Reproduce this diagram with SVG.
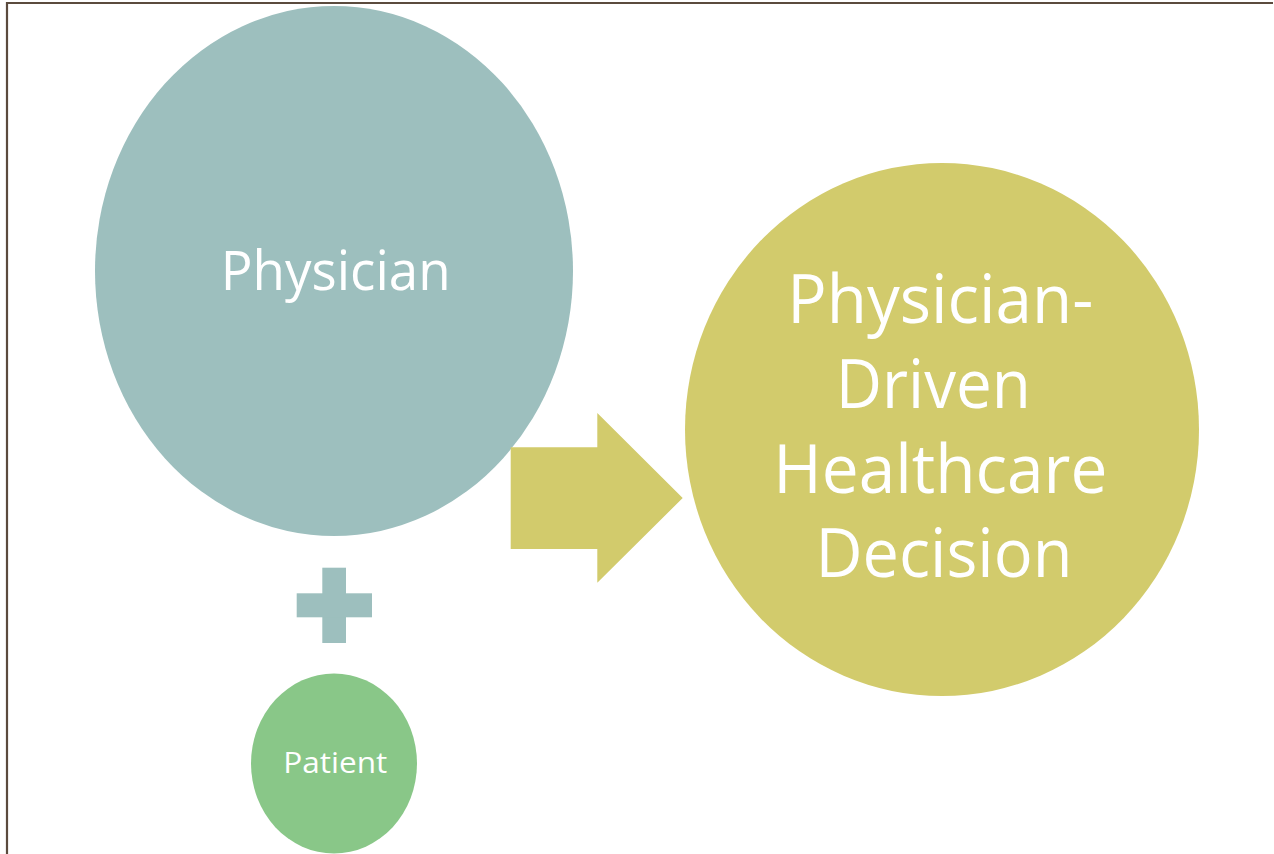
<svg xmlns="http://www.w3.org/2000/svg" width="1274" height="854" viewBox="0 0 1274 854">
<style>
.lbl{font-family:"Open Sans","Noto Sans","Liberation Sans",sans-serif;fill:#ffffff;text-anchor:middle}
.frame{stroke:#5b4b3e;stroke-width:2.2;fill:none}
</style>
<rect width="1274" height="854" fill="#ffffff"/>
<path class="frame" d="M7,854 V3 H1273"/>
<g id="physician">
<ellipse cx="334" cy="271" rx="239" ry="265" fill="#9dbfbe"/>
<text class="lbl" x="335.7" y="290" font-size="55" textLength="230" lengthAdjust="spacingAndGlyphs">Physician</text>
</g>
<g id="connectors">
<g id="plus" fill="#9dbfbe">
<rect x="322.3" y="567.7" width="23.7" height="75.3"/>
<rect x="296.7" y="593.3" width="75.3" height="24"/>
</g>
<polygon id="arrow" fill="#d2cb6c" points="510.7,447.3 597.3,447.3 597.3,413 682.7,498 597.3,582.7 597.3,549 510.7,549"/>
</g>
<g id="decision">
<ellipse cx="942" cy="429.5" rx="257" ry="266.5" fill="#d2cb6c"/>
<text class="lbl" font-size="67">
<tspan x="949" y="323.3" textLength="306" lengthAdjust="spacingAndGlyphs">Physician-</tspan>
<tspan x="942" y="408.3" textLength="195" lengthAdjust="spacingAndGlyphs">Driven</tspan>
<tspan x="949" y="493.3" textLength="334" lengthAdjust="spacingAndGlyphs">Healthcare</tspan>
<tspan x="944" y="576.7" textLength="257" lengthAdjust="spacingAndGlyphs">Decision</tspan>
</text>
</g>
<g id="patient">
<ellipse cx="334" cy="763.5" rx="83" ry="90" fill="#89c788"/>
<text class="lbl" x="335.3" y="773.3" font-size="30" textLength="104" lengthAdjust="spacingAndGlyphs">Patient</text>
</g>
</svg>
